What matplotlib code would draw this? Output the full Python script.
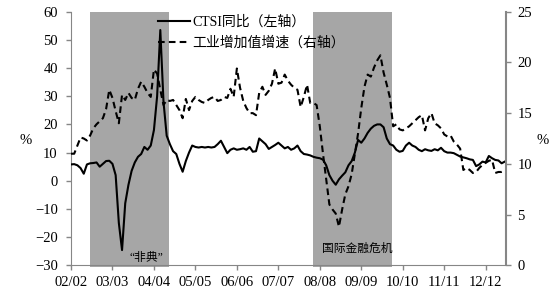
import matplotlib.pyplot as plt
from matplotlib.lines import Line2D
import numpy as np

plt.rcParams['font.family'] = ['Liberation Serif', 'Noto Sans CJK SC']
plt.rcParams['font.size'] = 10

# monthly data from 2002-02
ctsi = [5.8, 5.9, 5.5, 4.5, 2.5, 5.8, 6.2, 6.3, 6.5, 5.0, 6.0, 7.0, 7.1, 6.0, 2.0,
        -15, -24.6, -8, -1.5, 3.5, 6.5, 8.5, 9.5, 12.0, 11.0, 12.5, 18, 30, 53.5, 28,
        16, 13, 10.5, 9.5, 6, 3.2, 7, 10, 12.5, 12, 11.8, 12, 11.8, 12, 11.8,
        12, 13, 14.2, 12, 9.8, 11, 11.5, 11, 11.2, 11.5, 11, 12, 10.3, 10.5, 15,
        14, 13, 11.3, 12, 12.7, 13.5, 12.5, 11.5, 12, 11, 11.5, 12.5, 10.5, 9.5, 9.3,
        9.0, 8.5, 8.2, 8.0, 7.5, 5.5, 2, 0, -1.4, 0.5, 1.8, 3.0, 5.5, 7, 10,
        14.5, 13.5, 15, 17, 18.5, 19.5, 20, 20, 19, 15, 13, 12.5, 11, 10.3, 10.6,
        12.5, 13.5, 12.5, 12, 11, 10.5, 11.2, 10.8, 10.6, 11.2, 10.8, 11.7, 10.5, 10, 10,
        9.8, 9.2, 8.6, 8.3, 8.0, 7.6, 7.4, 5.2, 5.8, 6.8, 6.5, 8.8, 8, 7.4, 7.2,
        6.2, 6.8]
industry = [11.0, 11.0, 11.8, 12.6, 12.5, 12.3, 12.8, 13.5, 13.9, 14.2, 14.5, 15.4, 17.3, 16.5, 15.2,
            14.0, 16.8, 16.3, 17.0, 16.5, 16.3, 17.4, 18.1, 17.6, 17.0, 16.6, 19.3, 18.9, 17.3, 15.8,
            16.3, 16.2, 16.3, 15.8, 15.3, 14.5, 16.4, 15.3, 16.2, 16.6, 16.3, 16.1, 16.0, 16.3, 16.5,
            16.6, 16.2, 16.3, 16.6, 16.5, 17.4, 16.6, 19.4, 17.5, 16.2, 15.5, 15.0, 15.0, 14.8, 17.0,
            17.6, 16.8, 17.2, 17.9, 19.4, 17.9, 18.0, 18.8, 18.2, 17.8, 17.5, 17.3, 15.6, 16.6, 17.8,
            16.0, 16.0, 15.8, 13.7, 11.0, 8.5, 6.0, 5.5, 5.1, 3.8, 5.5, 7.0, 7.8, 9.0, 11.0,
            13.0, 15.5, 17.6, 18.8, 18.6, 19.5, 20.2, 20.7, 19.0, 17.8, 16.5, 13.7, 13.9, 13.4, 13.3,
            13.5, 13.7, 14.0, 14.3, 14.6, 14.8, 13.3, 14.5, 15.0, 14.0, 13.8, 13.5, 12.9, 12.7, 12.8,
            12.2, 11.9, 11.5, 9.4, 9.6, 9.4, 9.1, 9.2, 9.6, 9.9, 10.1, 10.3, 10.4, 9.1, 9.2,
            9.2, 9.3]
tick_labels = ["02/02", "03/03", "04/04", "05/05", "06/06", "07/07",
               "08/08", "09/09", "10/10", "11/11", "12/12"]
tick_months = [0, 13, 26, 39, 52, 65, 78, 91, 104, 117, 130]
shade_periods = [(5.95, 30.7), (75.95, 100.5)]
shade_labels = ["“非典”", "国际金融危机"]

x = np.arange(len(ctsi))
grey = "#868686"

fig = plt.figure(figsize=(5.54, 2.98), dpi=100)
ax = fig.add_axes([71 / 554, 1 - 265.3 / 298, 435.4 / 554, 253.6 / 298])
ax2 = ax.twinx()

for (a, b) in shade_periods:
    ax.axvspan(a, b, ymin=-0.005, ymax=1, color="#a6a6a6", zorder=1, lw=0, clip_on=False)

ax.plot(x, ctsi, color="black", lw=1.5, zorder=3)
ax2.plot(x, industry, color="black", lw=1.5, linestyle=(0, (3.2, 2.0)), zorder=3)

ax.set_xlim(0, 136.5)
ax.set_ylim(-30, 60)
ax.set_yticks(np.arange(-30, 61, 10))
ax2.set_ylim(0, 25)
ax2.set_yticks(np.arange(0, 26, 5))
ax.set_xticks(tick_months)
ax.set_xticklabels(tick_labels)

for a in (ax, ax2):
    a.spines["top"].set_visible(False)
    a.tick_params(length=3.5, width=1, color=grey, labelsize=10.5)
ax.spines["left"].set_color(grey)
ax.spines["bottom"].set_color(grey)
ax.spines["right"].set_visible(False)
ax2.spines["left"].set_visible(False)
ax2.spines["bottom"].set_visible(False)
ax2.spines["right"].set_color(grey)
ax2.spines["right"].set_linewidth(1.5)
ax.tick_params(axis="y", pad=6)
ax2.tick_params(axis="y", pad=4.5)
ax.tick_params(axis="x", pad=4.5)

fig.text(26 / 554, 1 - 140 / 298, "%", ha="center", va="center", fontsize=10.5)
fig.text(543 / 554, 1 - 140 / 298, "%", ha="center", va="center", fontsize=10.5)

ax.text(23.8, -27.3, shade_labels[0], ha="center", va="center", fontsize=8.5, zorder=4)
ax.text(89.7, -24.0, shade_labels[1], ha="center", va="center", fontsize=8.5, zorder=4)

handles = [Line2D([], [], color="black", lw=1.5),
           Line2D([], [], color="black", lw=1.5, linestyle=(0, (3.2, 2.0)))]
ax2.legend(handles, ["CTSI同比（左轴）", "工业增加值增速（右轴）"], loc="upper left",
           bbox_to_anchor=(158 / 554, 1 - 15 / 298), bbox_transform=fig.transFigure,
           frameon=False, borderpad=0, borderaxespad=0, handlelength=2.3,
           handletextpad=0.2, labelspacing=0.55, fontsize=10)

fig.savefig("out.png", dpi=100)
